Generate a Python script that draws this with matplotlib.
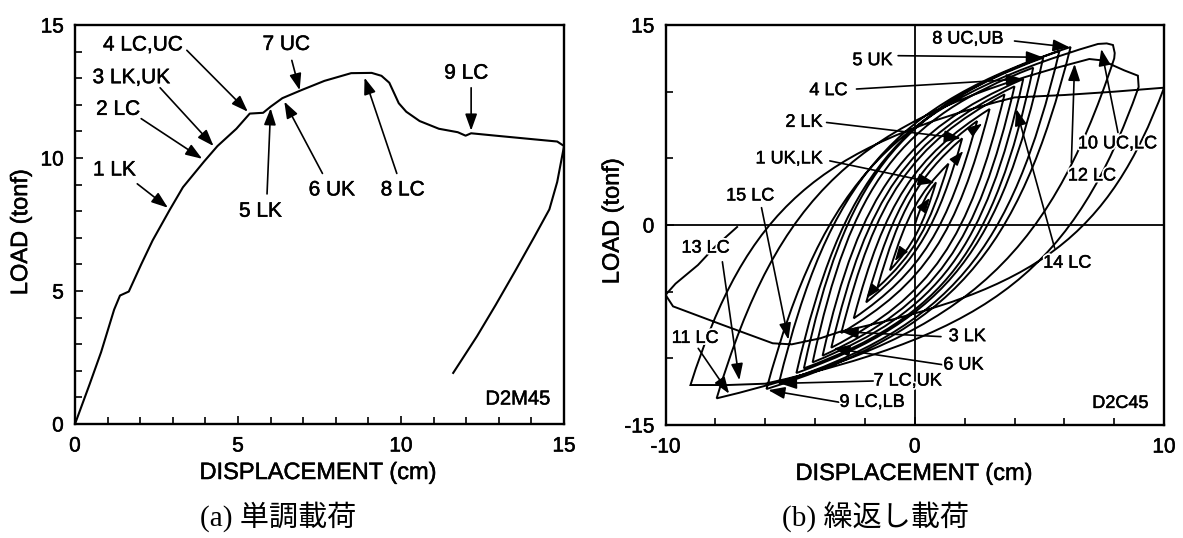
import matplotlib
matplotlib.use("Agg")
import matplotlib.pyplot as plt
import matplotlib.patheffects as pe
import numpy as np
from matplotlib.path import Path
from matplotlib.patches import PathPatch
from matplotlib.ticker import MultipleLocator, FixedLocator

plt.rcParams["font.family"] = ["Liberation Sans", "DejaVu Sans"]
plt.rcParams["axes.unicode_minus"] = False

# ---------------- (a) monotonic loading, specimen D2M45 ----------------
mono_disp = [0.0, 0.45, 0.8, 1.2, 1.38, 1.65, 2.03, 2.38, 2.9, 3.31, 3.96, 4.37,
             4.95, 5.36, 5.77, 6.0, 6.36, 6.94, 7.65, 8.47, 9.1, 9.4, 9.64, 9.81,
             9.93, 10.16, 10.57, 11.16, 11.74, 11.98, 12.15, 12.9, 14.1, 14.79,
             15.0, 14.79, 14.55, 14.09, 13.5, 12.9, 12.33, 11.6]
mono_load = [0.0, 1.5, 2.7, 4.3, 4.83, 4.98, 6.0, 6.9, 8.04, 8.9, 9.87, 10.45,
             11.1, 11.67, 11.7, 11.93, 12.25, 12.55, 12.9, 13.19, 13.2, 13.09,
             12.83, 12.38, 12.06, 11.74, 11.39, 11.1, 10.97, 10.84, 10.93, 10.84,
             10.7, 10.62, 10.45, 9.1, 8.07, 7.04, 5.75, 4.47, 3.3, 1.92]

mono_labels = ["1 LK", "2 LC", "3 LK,UK", "4 LC,UC", "5 LK", "6 UK", "7 UC",
               "8 LC", "9 LC"]
mono_event_disp = [2.85, 3.9, 4.25, 5.3, 6.0, 6.42, 6.89, 8.88, 12.15]
mono_event_load = [8.13, 9.97, 10.45, 11.74, 11.87, 12.12, 12.55, 13.02, 11.03]

# label placement (text centre, start of the pointer)
mono_text_xy = [(1.21, 9.55), (1.32, 11.83), (1.73, 13.02), (2.08, 14.25),
                (5.69, 8.0), (7.88, 8.8), (6.48, 14.27), (10.05, 8.8),
                (12.0, 13.19)]
mono_tail_xy = [(1.91, 9.03), (2.03, 11.48), (2.61, 12.64), (3.43, 14.05),
                (5.89, 8.65), (7.59, 9.42), (6.65, 13.67), (9.87, 9.42),
                (12.15, 12.64)]

# ---------------- (b) cyclic loading, specimen D2C45 ----------------
# turning points of the regular cycles
pos_peak_disp = [0.85, 1.35, 1.9, 2.5, 3.0, 3.6, 4.0, 4.35, 4.75, 5.15, 5.8, 6.25]
pos_peak_load = [3.2, 4.6, 6.5, 7.8, 8.7, 9.8, 10.4, 10.95, 11.8, 12.55, 13.05,
                 13.35]
neg_peak_disp = [-1.0, -1.5, -1.95, -2.45, -2.95, -3.35, -3.7, -4.1, -4.45,
                 -4.75, -5.45, -5.95, -7.95]
neg_peak_load = [-3.4, -4.7, -5.8, -7.0, -8.1, -9.2, -9.8, -10.3, -10.75,
                 -11.1, -11.85, -12.3, -13.0]

# load plateaus reached in the late cycles
cap_top_disp = [7.35, 7.7, 7.95, 8.02, 8.0]
cap_top_load = [13.58, 13.62, 13.5, 12.9, 12.5]
cap_second_disp = [6.4, 7.0, 7.5, 7.8, 8.4, 8.95, 8.98]
cap_second_load = [12.15, 12.45, 12.35, 12.1, 11.6, 11.2, 10.35]
trough_disp = [-6.0, -7.5, -9.0]
trough_load = [-11.9, -12.0, -12.0]
push_pos_disp = [4.0, 6.0, 8.0, 10.0]
push_pos_load = [9.57, 9.75, 10.0, 10.3]
push_neg_disp = [-3.0, -3.8, -4.94, -5.7, -7.7, -9.7, -10.0]
push_neg_load = [-8.0, -8.5, -8.95, -8.87, -7.5, -6.1, -5.24]
reload_disp = [-10.0, -9.6, -8.7, -8.0, -7.1]
reload_load = [-5.24, -4.4, -3.0, -1.6, -0.1]

# loading-direction marks on the inner cycles (position, direction)
dir_mark_xy = [(0.6, 2.03), (1.94, 5.54), (2.7, 7.6), (-0.8, -2.7), (-1.94, -5.5)]
dir_mark_uv = [(1.0, 2.6), (1.0, 2.2), (1.0, 1.3), (-1.0, -2.6), (-1.0, -2.4)]

cyc_labels = ["1 UK,LK", "2 LK", "3 LK", "4 LC", "5 UK", "6 UK", "7 LC,UK",
              "8 UC,UB", "9 LC,LB", "10 UC,LC", "11 LC", "12 LC", "13 LC",
              "14 LC", "15 LC"]
cyc_event_disp = [0.8, 1.85, -2.94, 4.34, 5.14, -3.27, -5.41, 6.21, -5.88,
                  7.48, -7.45, 6.41, -7.04, 4.07, -5.07]
cyc_event_load = [3.16, 6.5, -8.0, 10.95, 12.58, -9.25, -11.88, 13.33, -12.38,
                  13.2, -12.65, 12.08, -11.64, 8.7, -8.6]
cyc_text_xy = [(-5.05, 4.96), (-4.45, 7.7), (2.1, -8.37), (-3.47, 10.08),
               (-1.7, 12.33), (1.95, -10.5), (-0.3, -11.7), (2.12, 13.95),
               (-1.72, -13.3), (8.12, 6.09), (-8.82, -8.5), (7.1, 3.68),
               (-8.4, -1.73), (6.11, -2.86), (-6.61, 2.18)]
cyc_tail_xy = [(-3.41, 4.81), (-3.54, 7.69), (1.05, -8.37), (-2.34, 10.2),
               (-0.67, 12.7), (1.2, -10.5), (-1.67, -11.7), (4.0, 13.8),
               (-3.0, -13.3), (8.15, 6.94), (-8.69, -9.25), (6.28, 4.68),
               (-7.72, -2.76), (5.61, -1.73), (-6.15, 1.3)]


def branch(p0, p1, pull=0.78):
    """Cubic segment leaving p0 steeply and arriving at p1 flatly.
    Wider excursions give a fuller loop."""
    x0, y0 = p0
    x1, y1 = p1
    span = abs(x1 - x0)
    frac = max(0.22, 0.4 - 0.02 * span)
    kx = x0 + frac * (x1 - x0)
    ky = y0 + (1 - frac) * (y1 - y0)
    c1 = (x0 + pull * (kx - x0), y0 + pull * (ky - y0))
    c2 = (x1 + pull * (kx - x1), y1 + pull * (ky - y1))
    return [c1, c2, p1], [Path.CURVE4] * 3


# station sequence: each station is a short polyline reached by a branch
stations = [[(0.0, 0.0)]]
for i in range(len(pos_peak_disp)):
    stations.append([(pos_peak_disp[i], pos_peak_load[i])])
    stations.append([(neg_peak_disp[i], neg_peak_load[i])])
stations.append(list(zip(cap_top_disp, cap_top_load)))
stations.append([(neg_peak_disp[-1], neg_peak_load[-1])])
stations.append(list(zip(cap_second_disp, cap_second_load)))
stations.append(list(zip(trough_disp, trough_load)))
stations.append(list(zip(push_pos_disp, push_pos_load)))
stations.append(list(zip(push_neg_disp, push_neg_load)))

verts = [stations[0][0]]
codes = [Path.MOVETO]
for st in stations[1:]:
    v, c = branch(verts[-1], st[0])
    verts += v
    codes += c
    for p in st[1:]:
        verts.append(p)
        codes.append(Path.LINETO)
for p in zip(reload_disp[1:], reload_load[1:]):
    verts.append(p)
    codes.append(Path.LINETO)
cyc_path = Path(verts, codes)

# ---------------- figure ----------------
fig = plt.figure(figsize=(11.83, 5.38), dpi=100)
axL = fig.add_axes([0.0634, 0.2119, 0.4134, 0.7416])
axR = fig.add_axes([0.5626, 0.2100, 0.4214, 0.7435])

ink = [pe.withStroke(linewidth=0.35, foreground="black")]
halo = [pe.Stroke(linewidth=3, foreground="white"),
        pe.Stroke(linewidth=0.35, foreground="black"), pe.Normal()]

for ax in (axL, axR):
    for s in ax.spines.values():
        s.set_linewidth(1.7)
    ax.tick_params(which="both", direction="in", top=False, right=False,
                   labelsize=15, width=1.2)
    ax.tick_params(which="major", length=6)
    ax.tick_params(which="minor", length=5)
    ax.tick_params(axis="x", which="both", pad=9)
    ax.tick_params(axis="y", which="both", pad=8)

arrow_kw = dict(arrowstyle="-|>,head_length=0.5,head_width=0.18",
                mutation_scale=20, lw=1.2, color="black",
                shrinkA=0, shrinkB=0)

# (a)
axL.plot(mono_disp, mono_load, color="black", lw=1.5)
axL.set_xlim(0, 15)
axL.set_ylim(0, 15)
axL.xaxis.set_major_locator(MultipleLocator(5))
axL.xaxis.set_minor_locator(MultipleLocator(1))
axL.yaxis.set_major_locator(MultipleLocator(5))
axL.yaxis.set_minor_locator(MultipleLocator(1))
for lab, hx, hy, txy, tail in zip(mono_labels, mono_event_disp, mono_event_load,
                                   mono_text_xy, mono_tail_xy):
    axL.annotate("", xy=(hx, hy), xytext=tail, arrowprops=arrow_kw)
    axL.text(txy[0], txy[1], lab, fontsize=15, ha="center", va="center",
             path_effects=ink)
axL.text(13.58, 0.94, "D2M45", fontsize=14.5, ha="center", va="center",
         path_effects=ink)

# (b)
axR.set_xlim(-10, 10)
axR.set_ylim(-15, 15)
axR.axhline(0, color="black", lw=1.3)
axR.axvline(0, color="black", lw=1.3)
axR.add_patch(PathPatch(cyc_path, fill=False, edgecolor="black", lw=1.4))
for (mx, my), (u, v) in zip(dir_mark_xy, dir_mark_uv):
    n = np.hypot(u, v * 0.53)
    axR.annotate("", xy=(mx, my), xytext=(mx - 0.25 * u / n, my - 0.25 * v / n),
                 arrowprops=dict(arrowstyle="-|>,head_length=0.5,head_width=0.18",
                                 mutation_scale=18, lw=1.0, color="black",
                                 shrinkA=0, shrinkB=0))
axR.xaxis.set_major_locator(FixedLocator([-10, 0, 10]))
axR.xaxis.set_minor_locator(FixedLocator([-8, -6, -4, -2, 2, 4, 6, 8]))
axR.yaxis.set_major_locator(FixedLocator([-15, 0, 15]))
axR.yaxis.set_minor_locator(FixedLocator([-10, -5, 5, 10]))
for lab, hx, hy, txy, tail in zip(cyc_labels, cyc_event_disp, cyc_event_load,
                                   cyc_text_xy, cyc_tail_xy):
    axR.annotate("", xy=(hx, hy), xytext=tail, arrowprops=arrow_kw)
    axR.text(txy[0], txy[1], lab, fontsize=13, ha="center", va="center",
             path_effects=halo)
axR.text(8.24, -13.38, "D2C45", fontsize=13, ha="center", va="center",
         path_effects=ink)

for ax in (axL, axR):
    for t in ax.get_xticklabels() + ax.get_yticklabels():
        t.set_path_effects(ink)

# axis titles and panel captions
fig.text(0.2688, 0.1208, "DISPLACEMENT (cm)", fontsize=17, ha="center",
         va="center", path_effects=ink)
fig.text(0.7726, 0.1190, "DISPLACEMENT (cm)", fontsize=17, ha="center",
         va="center", path_effects=ink)
fig.text(0.0178, 0.5688, "LOAD (tonf)", fontsize=17, rotation=90,
         ha="center", va="center", path_effects=ink)
fig.text(0.5179, 0.5892, "LOAD (tonf)", fontsize=17, rotation=90,
         ha="center", va="center", path_effects=ink)
cap_font = ["Liberation Serif", "Noto Sans CJK JP"]
fig.text(0.2347, 0.040, "(a) 単調載荷", fontsize=21, ha="center", va="center",
         family=cap_font)
fig.text(0.7401, 0.040, "(b) 繰返し載荷", fontsize=21, ha="center", va="center",
         family=cap_font)

fig.savefig("out.png", dpi=100, facecolor="white")
